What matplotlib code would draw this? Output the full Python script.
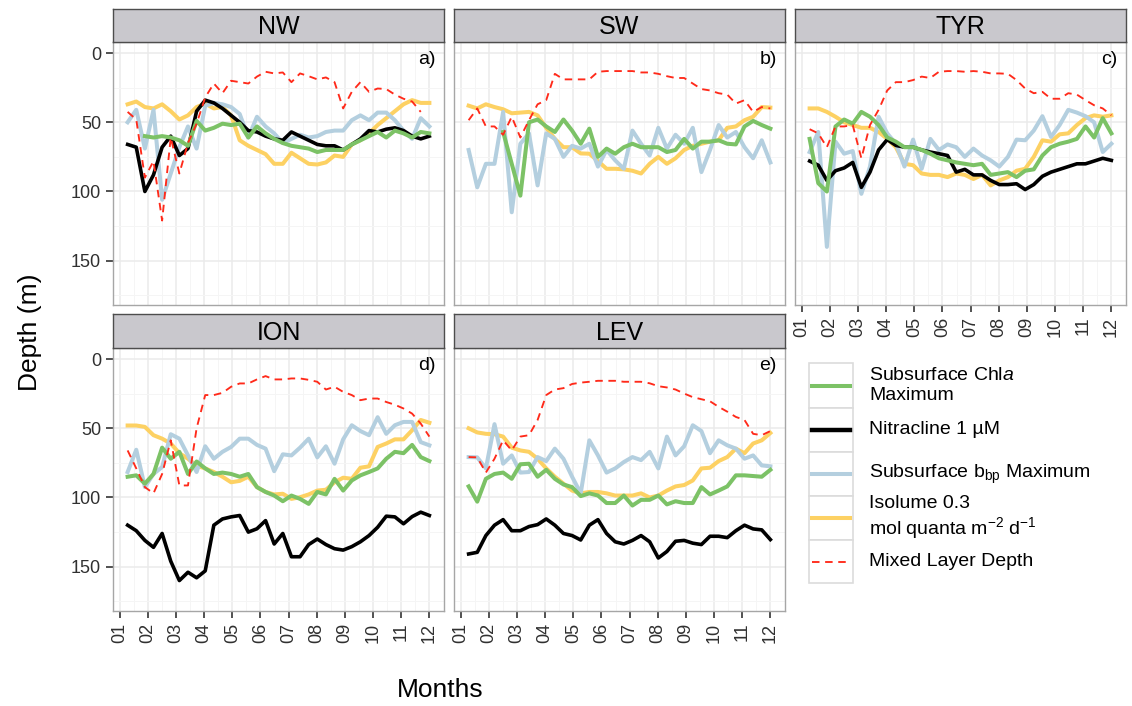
import numpy as np
import matplotlib.pyplot as plt
from matplotlib.patches import Rectangle

plt.rcParams['font.family'] = ['Liberation Sans', 'DejaVu Sans']
plt.rcParams['mathtext.fontset'] = 'custom'
plt.rcParams['mathtext.rm'] = 'Liberation Sans'
plt.rcParams['mathtext.it'] = 'Liberation Sans:italic'

# ~10-day sampling, in fractional months (01 = 1 January ... 12 = 1 December)
dekad_x = np.linspace(1.28, 12.0, 36)
nan = np.nan

regions = ['NW', 'SW', 'TYR', 'ION', 'LEV']
tags = ['a)', 'b)', 'c)', 'd)', 'e)']
month_labels = ['01', '02', '03', '04', '05', '06', '07', '08', '09', '10', '11', '12']

# depth (m) of each layer per region
chl_max = {
    'NW': [nan, nan, 60, 61, 60, 61, 63, 67, 49, 56, 54, 51, 52, 51, 61, 53, 58, 62,
           65, 67, 68, 69, 71.5, 70, 70, 70, 66, 63, 60, 57, 61, 56, 58, 61, 57, 58],
    'SW': [nan, nan, nan, nan, 57, 80, 103, 50, 48, 53, 57, 48, 56, 65.5, 54.6, 75, 69, 72.7,
           68, 65.5, 68, 68, 68, 71.5, 70, 62, 69, 64, 64, 63, 65.5, 66, 53, 49, 52, 54.6],
    'TYR': [62, 94, 100, 53, 48, 51, 42.5, 46, 52, 61, 64, 68, 68, 70, 72.7, 76, 77.5, 79,
            80, 81, 80, 88, 87, 86, 89.6, 85, 84, 74, 68, 65.5, 64, 62, 53, 61, 47, 58],
    'ION': [85, 84, 90, 83, 64, 72, 67, 83, 74, 79, 83, 82, 83, 85, 83, 92.5, 96, 98.6,
            102.7, 98.6, 101, 104.6, 96, 97.8, 86.5, 95, 87.7, 84, 81.6, 79, 72, 67, 68, 62, 70.8, 73.7],
    'LEV': [92, 103, 86.5, 83, 82, 86.5, 76, 75.6, 85, 80, 86.5, 90.6, 92.5, 99, 97, 98.6, 104, 104,
            98.6, 105.8, 101.7, 101.7, 98.6, 105, 102.7, 104, 104, 92.5, 97.8, 95, 92, 84, 84, 84.5, 85, 80],
}

nitracline = {
    'NW': [66, 68, 100, 88, 68, 60, 74, 69, 42, 34, 36, 40, 45, 50, 56, 57, 60, 62,
           63, 57, 60, 63, 66, 67, 67, 70, 66, 62, 56, 57, 55, 54, 56, 60, 62, 60],
    'SW': [nan] * 36,
    'TYR': [78, 81, 92, 85, 83, 79, 97, 86, 70, 62.5, 66.7, 68, 68, 70, 71.5, 72.7, 74, 86,
            84, 88, 88, 92, 95, 95, 94.4, 98.6, 95, 89, 86, 84, 82, 80, 80, 78, 76, 77.5],
    'ION': [120, 124, 131, 136, 126, 146, 160, 154, 158, 153, 120, 115.5, 114, 113, 125, 122.6, 116.7, 133.6,
            126, 142.8, 142.8, 134, 130, 134, 137, 138, 135.5, 132, 127.5, 121.5, 113.5, 114, 119, 113.8, 110.6, 113],
    'LEV': [140.8, 139.6, 127.5, 120, 116, 124, 124, 121, 119.6, 115.5, 120, 126, 127.5, 130.7, 120, 116, 126, 132,
            133.6, 131, 127.5, 132, 143.7, 139, 131.6, 131, 133, 134, 128, 128, 129, 124, 120, 122.7, 123.4, 130.4],
}

bbp_max = {
    'NW': [50, 41, 69, 41, 106, 87, 68, 53, 69, 38, 36, 37, 39, 44, 61, 46, 53, 58,
           65, 62, 59, 61, 60, 57, 56, 56, 48.5, 45, 48.5, 43, 43, 48.5, 56, 62, 47, 53],
    'SW': [70, 97, 80, 80, 42.5, 115, 65.5, 58, 95.6, 58, 62, 75, 67, 69, 65.5, 82, 70, 77.5,
           83.6, 56, 65.5, 74, 54, 69, 59, 65.5, 54, 86, 70, 52, 61, 57, 68, 76, 63, 79],
    'TYR': [71.5, 57, 140, 64, 72.7, 70.8, 101.7, 82, 46, 58, 65.5, 82, 62.5, 83.6, 62, 70, 66, 68,
            75, 69, 74, 77.5, 82, 75, 62.5, 63, 56, 45.6, 60.6, 52, 41, 43, 45.6, 50, 71.5, 65.5],
    'ION': [81.6, 65.5, 92.5, 83, 78, 54.3, 57.5, 69.6, 81.6, 63, 72, 67, 63.5, 57.5, 57.5, 62, 64.7, 81,
            68.8, 69.6, 64, 57.5, 71, 63, 75.6, 58, 47.8, 52, 55, 42, 54, 47.8, 45.4, 45.4, 60, 62.3],
    'LEV': [70.8, 71, 79, 47, 75.6, 69.6, 82, 81.6, 70.8, 73.7, 64.7, 72, 85, 97, 58.7, 69.6, 82, 79,
            74.4, 70.8, 73, 67, 79, 56, 69.6, 63, 47.8, 52, 68, 58.7, 62.3, 64.7, 72, 69.6, 76.8, 77.5],
}

isolume = {
    'NW': [37, 35, 39, 40, 37, 42, 48, 45, 39, 36.5, 40, 39, 45, 63, 67, 70, 73, 80,
           80, 72, 76, 80, 80.5, 79, 74, 75, 66, 63, 58, 52, 47, 42, 37, 34, 36, 36],
    'SW': [38, 40, 37, 39, 40.6, 43.5, 43, 42.5, 45, 54, 62, 68, 68, 72.5, 72.7, 78, 83.6, 83.6,
           84, 85, 87, 80, 75, 80, 76, 70, 67, 65.5, 64, 63, 54, 53, 48.5, 46, 39, 39.4],
    'TYR': [40, 40, 42.5, 46, 50, 52, 54, 54, 57, 62, 68, 80, 81, 87, 88, 88, 89.6, 87,
            88, 91, 88, 95.6, 92, 89.6, 85, 83.6, 75, 63, 64, 58.7, 58, 52, 47, 45, 46, 45],
    'ION': [48, 48, 49, 55, 57.5, 61, 68, 72, 77, 79, 81.6, 85, 89, 88, 85, 92.5, 96, 97.8,
            97.3, 101, 99.8, 97.8, 95, 94.4, 89, 85.7, 86.5, 78.5, 77.5, 63.5, 61, 58, 58, 51.4, 44, 46],
    'LEV': [50, 53, 54, 54.3, 56, 64, 66, 67, 72, 79, 85, 90, 95, 97, 96, 96, 97, 98.6,
            98.6, 98.6, 97, 100, 98.6, 95, 92, 91, 87.7, 79, 78.5, 73.7, 70.8, 64.7, 68, 61, 58.7, 53.4],
}

mld = {
    'NW': [42.5, 48, 90, 78, 121, 61, 87, 65, 51, 32, 22, 29, 20, 21, 22, 17, 13.5, 14.7,
           14, 21, 14.7, 16.7, 19, 17.6, 21, 40, 28, 21, 28, 25.6, 26, 30, 33, 35, 42.5, nan],
    'SW': [48.5, 40, 53, 53, 59, 46, 61, 48.5, 37, 34, 15, 19, 19, 19, 19, 13.5, 13, 13,
           13, 13, 14, 14, 15, 16.7, 18, 18, 22, 26, 27, 29, 30, 36.5, 34, 42.5, 39, 40],
    'TYR': [55, 58, 68, 53, 53, 52, 76, 52, 41, 27, 21, 21, 19.5, 17, 18, 13.5, 13, 13,
            13.5, 13, 13.5, 14.7, 14.7, 15, 19.5, 25.6, 29, 28, 33, 33, 29, 30, 34, 37.7, 40, 45],
    'ION': [66, 79, 92.5, 97, 83, 58.7, 91.3, 91.3, 50, 26, 26, 24.4, 20, 17.6, 17.6, 14.7, 12.3, 14.7,
            14.7, 14, 14, 15, 16.4, 22, 20, 23.7, 26, 29.7, 28.5, 28.5, 31, 33, 35.7, 39.4, 46.6, 56],
    'LEV': [70.8, 71, 82, 72, 58.7, 66, 56, 55, 44, 26, 22, 21, 18, 17, 16.4, 15.7, 15.7, 15.7,
            16.4, 16.4, 16.4, 17.5, 19.6, 20.5, 22, 24.9, 27.5, 29, 30.5, 34.5, 38, 41.8, 44, 54, 55, 52],
}

green = '#7cc266'
blue = '#b4cfdf'
yellow = '#fdd163'
red = '#ff2a1a'

W, H = 1132, 706
fig = plt.figure(figsize=(W / 100, H / 100), dpi=100)


# place an axes using pixel edges measured from the top left corner
def px_axes(x0, y0, x1, y1):
    return fig.add_axes([x0 / W, 1 - y1 / H, (x1 - x0) / W, (y1 - y0) / H])


col_x = [113, 454, 795]
row_y = [(9, 42, 305), (314, 348, 611)]
layout = {'NW': (0, 0), 'SW': (0, 1), 'TYR': (0, 2), 'ION': (1, 0), 'LEV': (1, 1)}

for region, tag in zip(regions, tags):
    row, col = layout[region]
    x0 = col_x[col]
    x1 = x0 + 331
    s0, p0, p1 = row_y[row]

    ax = px_axes(x0, p0, x1, p1)
    ax.plot(dekad_x, isolume[region], color=yellow, lw=2.9, zorder=2, solid_joinstyle='round')
    ax.plot(dekad_x, bbp_max[region], color=blue, lw=2.9, zorder=3, solid_joinstyle='round')
    ax.plot(dekad_x, nitracline[region], color='black', lw=2.6, zorder=4, solid_joinstyle='round')
    ax.plot(dekad_x, chl_max[region], color=green, lw=2.9, zorder=5, solid_joinstyle='round')
    ax.plot(dekad_x, mld[region], color=red, lw=1.35, dashes=(4, 3), zorder=6)

    ax.set_xlim(0.76, 12.52)
    ax.set_ylim(182, -8)
    ax.set_xticks(range(1, 13))
    ax.set_xticks(np.arange(1.5, 12.5, 1), minor=True)
    ax.set_yticks([0, 50, 100, 150])
    ax.set_yticks([25, 75, 125, 175], minor=True)
    ax.grid(which='major', color='#ebebeb', lw=1.1)
    ax.grid(which='minor', color='#f5f5f5', lw=0.7)
    ax.set_axisbelow(True)
    for sp in ax.spines.values():
        sp.set_color('#a6a6a6')
        sp.set_linewidth(1.0)
    ax.tick_params(which='minor', length=0)
    ax.tick_params(which='major', length=5, width=1.2, color='#333333',
                   labelsize=13, labelcolor='#303030')

    # y axis only on the first column, x axis only on the lowest panel of each column
    if col != 0:
        ax.tick_params(axis='y', length=0, labelleft=False)
    if region in ('ION', 'LEV', 'TYR'):
        ax.set_xticklabels(month_labels, rotation=90)
    else:
        ax.tick_params(axis='x', length=0, labelbottom=False)

    ax.text(0.975, 0.965, tag, transform=ax.transAxes, ha='right', va='top', fontsize=14)

    sx = px_axes(x0, s0, x1, p0)
    sx.set_facecolor('#c9c8cd')
    sx.set_xticks([])
    sx.set_yticks([])
    for sp in sx.spines.values():
        sp.set_color('#4d4d4d')
        sp.set_linewidth(1.0)
    sx.text(0.5, 0.45, region, transform=sx.transAxes, ha='center', va='center', fontsize=18)

fig.text(30 / W, 1 - 332 / H, 'Depth (m)', rotation=90, ha='center', va='center', fontsize=19)
fig.text(440 / W, 1 - 690 / H, 'Months', ha='center', va='center', fontsize=19)

# legend, drawn in pixel units
lax = px_axes(800, 355, 1132, 600)
lax.set_xlim(800, 1132)
lax.set_ylim(600, 355)
lax.axis('off')

legend_labels = ['Subsurface Chl$\\it{a}$\nMaximum',
                 'Nitracline 1 \u00b5M',
                 'Subsurface b$_{\\mathrm{bp}}$ Maximum',
                 'Isolume 0.3\nmol quanta m$^{\\mathrm{-2}}$ d$^{\\mathrm{-1}}$',
                 'Mixed Layer Depth']
legend_colors = [green, 'black', blue, yellow, red]
box_edges = [363, 408, 452, 496, 540, 583]
for i, (lab, c) in enumerate(zip(legend_labels, legend_colors)):
    b0, b1 = box_edges[i], box_edges[i + 1]
    lax.add_patch(Rectangle((809, b0), 44, b1 - b0, facecolor='white',
                            edgecolor='#dcdcdc', lw=1.2))
    yc = (b0 + b1) / 2
    if i == 4:
        lax.plot([812, 850], [yc, yc], color=c, lw=1.35, dashes=(4, 3))
    else:
        lax.plot([812, 850], [yc, yc], color=c, lw=2.9 if i != 1 else 3.2)
    lax.text(869, yc, lab, ha='left', va='center', fontsize=14, linespacing=1.2)

fig.savefig('out.png', dpi=100)
